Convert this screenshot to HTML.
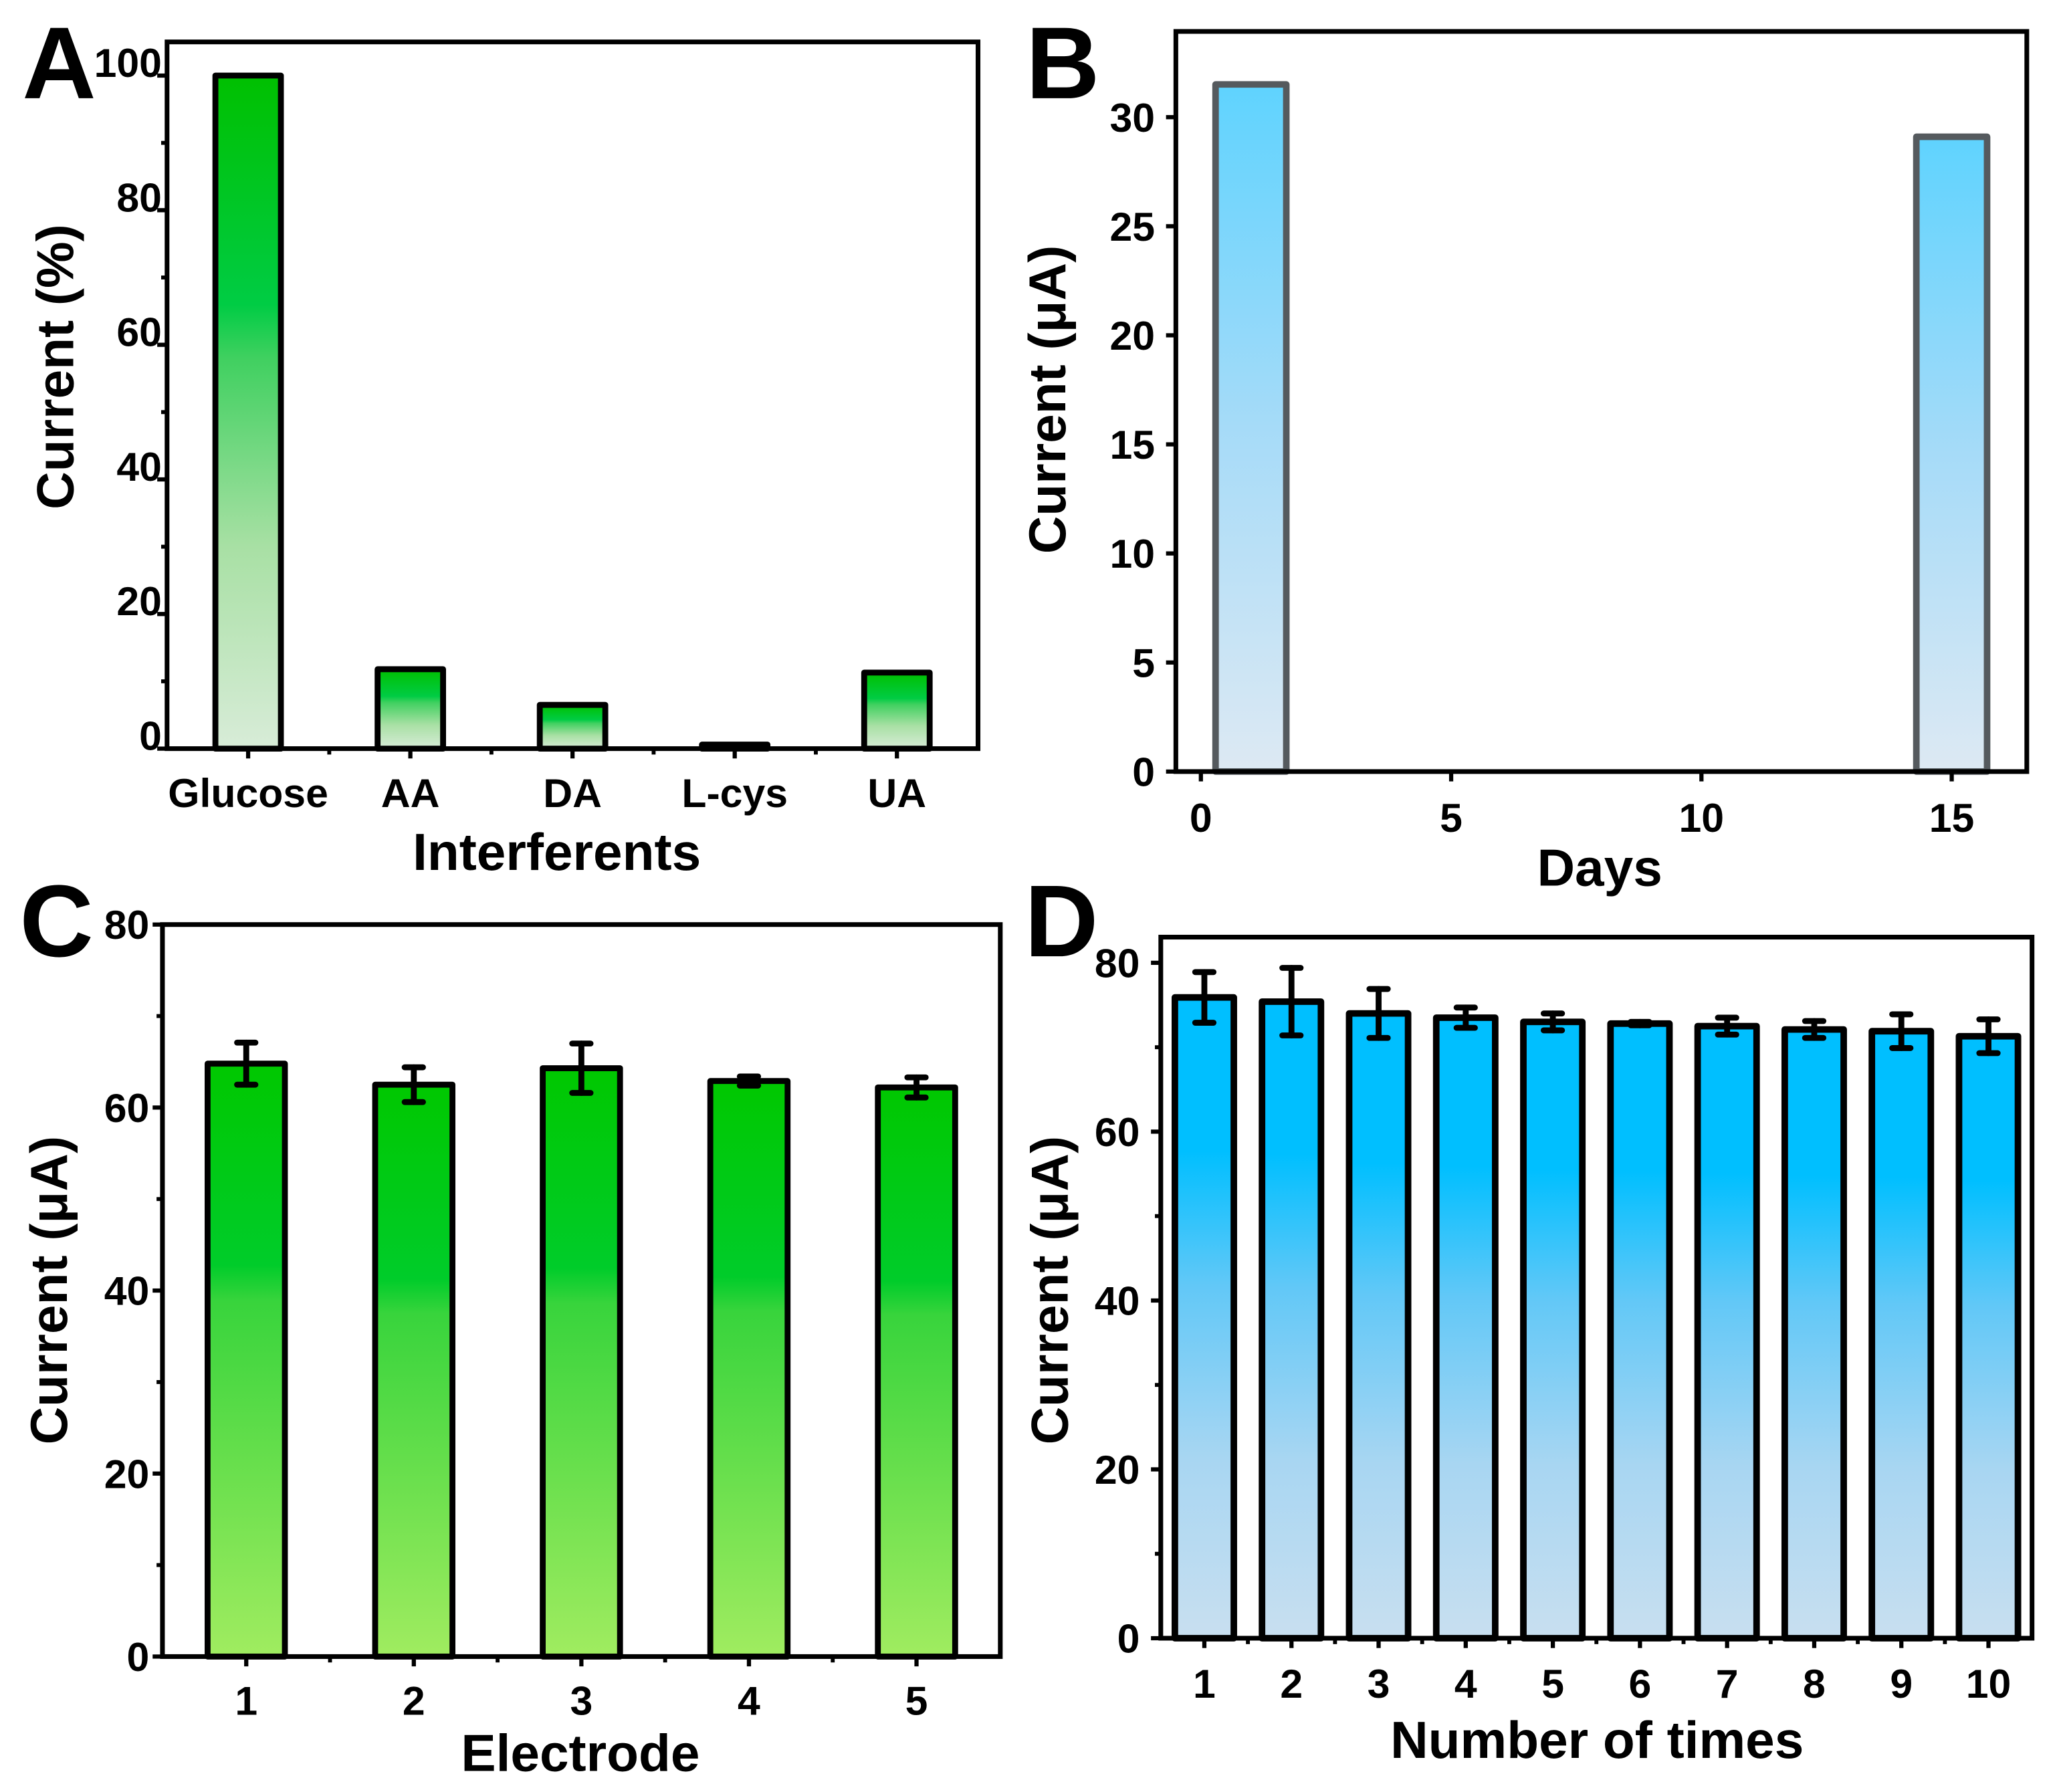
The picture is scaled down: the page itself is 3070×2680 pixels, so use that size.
<!DOCTYPE html>
<html><head><meta charset="utf-8">
<style>
html,body{margin:0;padding:0;background:#fff;}
svg{display:block;}
text{font-family:"Liberation Sans",Arial,sans-serif;font-weight:bold;fill:#000;}
</style></head>
<body>
<svg id="fig" xmlns="http://www.w3.org/2000/svg" width="3070" height="2680" viewBox="0 0 1567 1368" preserveAspectRatio="none">
<defs>
<linearGradient id="gA" x1="0" y1="0" x2="0" y2="1">
<stop offset="0" stop-color="#00c000"/><stop offset="0.34" stop-color="#00cc44"/><stop offset="0.42" stop-color="#40d060"/><stop offset="0.7" stop-color="#a8e0a4"/><stop offset="1" stop-color="#d8ecd8"/>
</linearGradient>
<linearGradient id="gB" x1="0" y1="0" x2="0" y2="1">
<stop offset="0" stop-color="#5fd3fe"/><stop offset="0.5" stop-color="#a6dbf8"/><stop offset="1" stop-color="#dde9f3"/>
</linearGradient>
<linearGradient id="gC" x1="0" y1="0" x2="0" y2="1">
<stop offset="0" stop-color="#00c800"/><stop offset="0.34" stop-color="#00cc2a"/><stop offset="0.4" stop-color="#38d43c"/><stop offset="1" stop-color="#a0ec60"/>
</linearGradient>
<linearGradient id="gD" x1="0" y1="0" x2="0" y2="1">
<stop offset="0" stop-color="#00bfff"/><stop offset="0.24" stop-color="#00bfff"/><stop offset="0.45" stop-color="#62c8f7"/><stop offset="0.72" stop-color="#a8d6f2"/><stop offset="1" stop-color="#c8dff0"/>
</linearGradient>
</defs>
</svg>
<script>
// ---- data ----
const catsA = ["Glucose","AA","DA","L-cys","UA"];
const valsA = [100, 11.8, 6.5, 0.6, 11.3];
const ticksA = [0,20,40,60,80,100];

const daysB = [1, 15];
const valsB = [31.5, 29.1];
const yTicksB = [0,5,10,15,20,25,30];
const xTicksB = [0,5,10,15];

const catsC = ["1","2","3","4","5"];
const valsC = [64.8, 62.5, 64.3, 62.9, 62.2];
const errC = [2.3, 1.9, 2.7, 0.5, 1.1];
const ticksC = [0,20,40,60,80];

const catsD = ["1","2","3","4","5","6","7","8","9","10"];
const valsD = [75.9, 75.4, 74.0, 73.5, 73.0, 72.8, 72.5, 72.1, 71.9, 71.3];
const errD = [3.0, 4.0, 2.9, 1.2, 1.0, 0.2, 1.0, 1.0, 2.0, 2.0];
const ticksD = [0,20,40,60,80];

const NS = "http://www.w3.org/2000/svg";
const svg = document.getElementById('fig');
function mk(tag, attrs, parent, txt){
  const e = document.createElementNS(NS, tag);
  for (const k in attrs) e.setAttribute(k, attrs[k]);
  if (txt !== undefined) e.textContent = txt;
  (parent||svg).appendChild(e);
  return e;
}
function scale(d0,d1,r0,r1){ return v => r0 + (v-d0)/(d1-d0)*(r1-r0); }
const FF = '"Liberation Sans", Arial, sans-serif';

function panel(p){
  const g = mk('g', {});
  
  
  const xs = scale(p.xmin,p.xmax,p.L,p.R), ys = scale(p.ymin,p.ymax,p.B,p.T);
  p.xv.forEach((xv,i)=>{
    const v = p.vals[i];
    const y = ys(v), x = xs(xv)-p.bw/2;
    const r = mk('rect',{x:x,y:y,width:p.bw,height:Math.max(ys(p.ymin)-y,0.5),fill:p.fill,stroke:p.stroke,'stroke-width':p.sw,'stroke-linejoin':'round'},g);
    
    
    if (p.err){
      const e = p.err[i], cx = xs(xv);
      const eg = mk('g',{stroke:'#000','stroke-width':4.5,'stroke-linecap':'round'},g);
      
      
      mk('line',{x1:cx,x2:cx,y1:ys(v+e),y2:ys(v-e)},eg);
      mk('line',{x1:cx-7,x2:cx+7,y1:ys(v+e),y2:ys(v+e)},eg);
      mk('line',{x1:cx-7,x2:cx+7,y1:ys(v-e),y2:ys(v-e)},eg);
    }
  });
  const fr = mk('rect',{x:p.L,y:p.T,width:p.R-p.L,height:p.B-p.T,fill:'none',stroke:'#000','stroke-width':3.6},g);
  
  
  p.yt.forEach(t=>{
    const y = ys(t);
    mk('line',{x1:p.L-7.5,x2:p.L,y1:y,y2:y,stroke:'#000','stroke-width':3.2},g);
    const tx = mk('text',{x:p.L+p.ylOff,y:y+p.ylDy,'font-size':p.tfs,'text-anchor':'end','font-family':FF,'font-weight':'bold'},g,String(t));
    
    
  });
  (p.ym||[]).forEach(t=>{ const y=ys(t); mk('line',{x1:p.L-4.5,x2:p.L,y1:y,y2:y,stroke:'#000','stroke-width':3},g); });
  p.xt.forEach((t,i)=>{
    const x = xs(t);
    mk('line',{x1:x,x2:x,y1:p.B,y2:p.B+7.5,stroke:'#000','stroke-width':3.2},g);
    const tx = mk('text',{x:x,y:p.xlY,'font-size':p.tfs,'text-anchor':'middle','font-family':FF,'font-weight':'bold'},g,p.xtl?p.xtl[i]:String(t));
    
    
  });
  (p.xm||[]).forEach(t=>{ const x=xs(t); mk('line',{x1:x,x2:x,y1:p.B,y2:p.B+4.5,stroke:'#000','stroke-width':3},g); });
  const xt = mk('text',{x:p.xtX,y:p.xtY,'font-size':40,'text-anchor':'middle'},g,p.xtitle);
  
  
  const yt = mk('text',{x:0,y:0,'font-size':40,'text-anchor':'middle',transform:`translate(${p.ytX},${p.ytY}) rotate(-90)`},g,p.ytitle);
  
  
  const lt = mk('text',{x:p.lx,y:p.ly,'font-size':78},g,p.letter);
  
  
}

const range = n => Array.from({length:n},(_,i)=>i+1);

panel({name:'panel-a-interference',L:127.5,R:746.5,T:32,B:571.5,xmin:0.5,xmax:5.5,ymin:0,ymax:105,
  xv:range(5),vals:valsA,labels:catsA,bw:50,fill:'url(#gA)',stroke:'#000',sw:4.5,
  yt:ticksA,ym:[10,30,50,70,90],ylOff:-4,ylDy:1,tfs:31,
  xt:range(5),xtl:catsA,xm:[1.5,2.5,3.5,4.5],xlY:616,
  xtitle:'Interferents',xtX:425,xtY:664,ytitle:'Current (%)',ytX:56,ytY:280,letter:'A',lx:17,ly:75});

panel({name:'panel-b-stability',L:897.5,R:1547,T:24,B:589,xmin:-0.5,xmax:16.5,ymin:0,ymax:33.93,
  xv:daysB,vals:valsB,labels:['day1','day15'],bw:54,fill:'url(#gB)',stroke:'#555a5e',sw:5,
  yt:yTicksB,ylOff:-16,ylDy:11,tfs:31,
  xt:xTicksB,xlY:635,
  xtitle:'Days',xtX:1221,xtY:676,ytitle:'Current (\u03BCA)',ytX:813,ytY:305,letter:'B',lx:783,ly:75});

panel({name:'panel-c-reproducibility',L:124,R:763.5,T:705.8,B:1264.6,xmin:0.5,xmax:5.5,ymin:0,ymax:80,
  xv:range(5),vals:valsC,err:errC,labels:catsC,bw:59,fill:'url(#gC)',stroke:'#000',sw:4.5,
  yt:ticksC,ym:[10,30,50,70],ylOff:-10,ylDy:11,tfs:31,
  xt:range(5),xtl:catsC,xm:[1.5,2.5,3.5,4.5],xlY:1309,
  xtitle:'Electrode',xtX:443,xtY:1352,ytitle:'Current (\u03BCA)',ytX:51,ytY:985,letter:'C',lx:15,ly:730});

panel({name:'panel-d-repeatability',L:886,R:1551,T:715.4,B:1250.6,xmin:0.5,xmax:10.5,ymin:0,ymax:83.04,
  xv:range(10),vals:valsD,err:errD,labels:catsD,bw:45,fill:'url(#gD)',stroke:'#000',sw:5,
  yt:ticksD,ym:[10,30,50,70],ylOff:-16,ylDy:11,tfs:31,
  xt:range(10),xtl:catsD,xm:[1.5,2.5,3.5,4.5,5.5,6.5,7.5,8.5,9.5],xlY:1296,
  xtitle:'Number of times',xtX:1219,xtY:1342,ytitle:'Current (\u03BCA)',ytX:815,ytY:985,letter:'D',lx:782,ly:730});
</script>
</body></html>
